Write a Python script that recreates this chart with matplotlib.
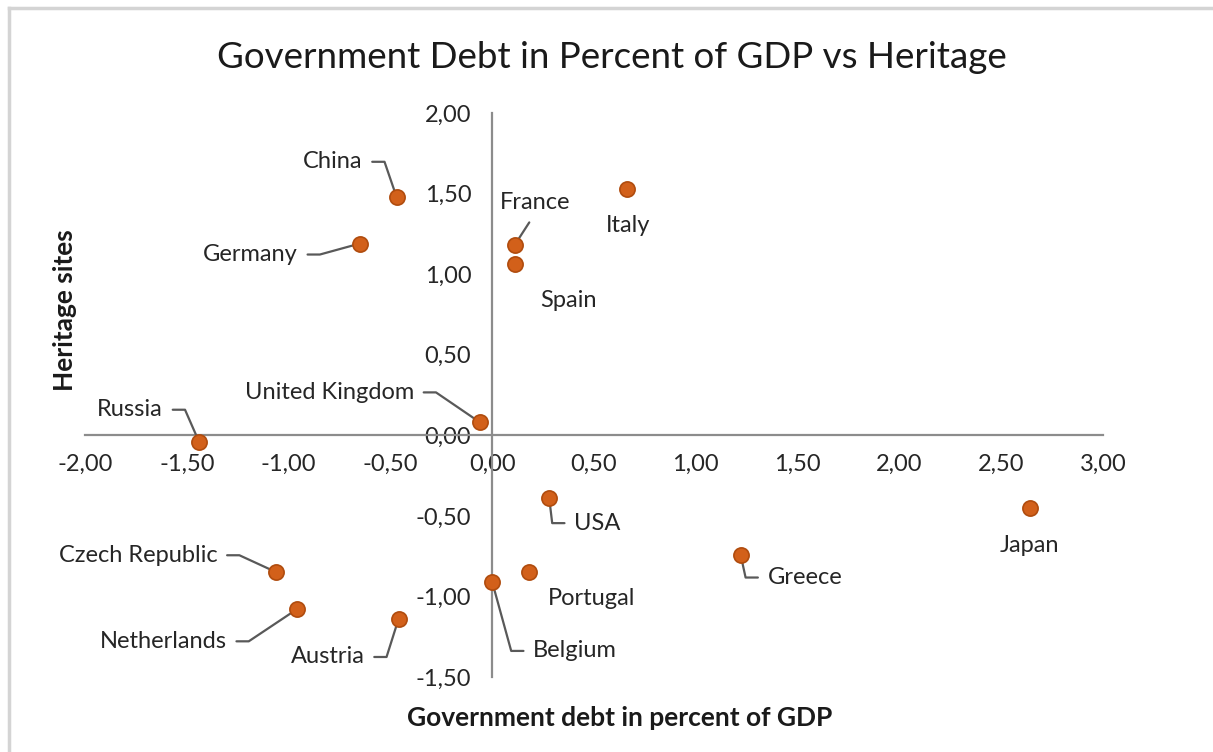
import numpy as np
import matplotlib
matplotlib.use("Agg")
import matplotlib.pyplot as plt
from matplotlib.lines import Line2D

plt.rcParams['font.family'] = ['Lato', 'DejaVu Sans']

# data
countries = ["China", "Germany", "France", "Spain", "Italy", "United Kingdom",
             "Russia", "USA", "Japan", "Greece", "Czech Republic", "Portugal",
             "Belgium", "Netherlands", "Austria"]
debt = [-0.47, -0.65, 0.11, 0.11, 0.66, -0.06,
        -1.44, 0.28, 2.64, 1.22, -1.06, 0.18,
        0.00, -0.96, -0.46]
heritage = [1.48, 1.19, 1.18, 1.06, 1.53, 0.08,
            -0.04, -0.39, -0.45, -0.74, -0.85, -0.85,
            -0.91, -1.08, -1.14]
x_ticks = [-2.0, -1.5, -1.0, -0.5, 0.0, 0.5, 1.0, 1.5, 2.0, 2.5, 3.0]
y_ticks = [-1.5, -1.0, -0.5, 0.0, 0.5, 1.0, 1.5, 2.0]

# label placement (pixel offsets from point, alignment, leader kind)
label_layout = {
    "China":          (-34, 35, "right", "hook"),
    "Germany":        (-62, -11, "right", "hook"),
    "France":         (21, 43, "center", "straight"),
    "Spain":          (54, -36, "center", None),
    "Italy":          (1, -37, "center", None),
    "United Kingdom": (-66, 30, "right", "hook"),
    "Russia":         (-36, 32, "right", "hook"),
    "USA":            (25, -25, "left", "hook"),
    "Japan":          (0, -38, "center", None),
    "Greece":         (27, -23, "left", "hook"),
    "Czech Republic": (-59, 17, "right", "hook"),
    "Portugal":       (63, -26, "center", None),
    "Belgium":        (41, -69, "left", "hook"),
    "Netherlands":    (-70, -32, "right", "hook"),
    "Austria":        (-34, -38, "right", "hook"),
}

def fmt(v):
    return "{:.2f}".format(v).replace(".", ",")

fig = plt.figure(figsize=(12.13, 7.52), dpi=100)
ax = fig.add_axes([85 / 1213, 1 - 677 / 752, 1018 / 1213, 564 / 752])

ax.set_xlim(-2, 3)
ax.set_ylim(-1.5, 2)
for s in ["top", "right"]:
    ax.spines[s].set_visible(False)
for s in ["left", "bottom"]:
    ax.spines[s].set_position(("data", 0))
    ax.spines[s].set_color("#8c8c8c")
    ax.spines[s].set_linewidth(1.6)
ax.set_xticks(x_ticks)
ax.set_yticks(y_ticks)
ax.set_xticklabels([fmt(v) for v in x_ticks])
ax.set_yticklabels([fmt(v) for v in y_ticks])
ax.tick_params(axis="x", length=0, pad=13.5, labelsize=17, labelcolor="#262626")
ax.tick_params(axis="y", length=0, pad=15, labelsize=17, labelcolor="#262626")
ax.patch.set_alpha(0)

ax.scatter(debt, heritage, s=120, color="#D2601A", edgecolor="#B04C0E",
           linewidth=1.2, zorder=5)

hook = 22
lab_size = 17
for name, x, y in zip(countries, debt, heritage):
    dx, dy, ha, kind = label_layout[name]
    if kind == "hook":
        relx = 1 if ha == "right" else 0
        kx = dx + hook if ha == "right" else dx - hook
        angB = np.degrees(np.arctan2(dy, kx))
        ax.annotate(name, (x, y), xytext=(dx, dy), textcoords="offset pixels",
                    ha=ha, va="center", fontsize=lab_size, color="#262626",
                    arrowprops=dict(arrowstyle="-", color="#595959", lw=1.6,
                                    relpos=(relx, 0.5), shrinkA=5, shrinkB=4,
                                    connectionstyle="angle,angleA=0,angleB=%.2f,rad=0" % angB))
    elif kind == "straight":
        ax.annotate(name, (x, y), xytext=(dx, dy), textcoords="offset pixels",
                    ha=ha, va="center", fontsize=lab_size, color="#262626",
                    arrowprops=dict(arrowstyle="-", color="#595959", lw=1.6,
                                    relpos=(0.5, 0), shrinkA=6, shrinkB=4))
    else:
        ax.annotate(name, (x, y), xytext=(dx, dy), textcoords="offset pixels",
                    ha=ha, va="center", fontsize=lab_size, color="#262626")

fig.text(612 / 1213, 1 - 57 / 752, "Government Debt in Percent of GDP vs Heritage",
         ha="center", va="center", fontsize=26.5, color="#1a1a1a")
fig.text(620 / 1213, 1 - 718 / 752, "Government debt in percent of GDP",
         ha="center", va="center", fontsize=19, fontweight="bold", color="#1a1a1a")
fig.text(65 / 1213, 1 - 310 / 752, "Heritage sites", rotation=90,
         ha="center", va="center", fontsize=19, fontweight="bold", color="#1a1a1a")

# light frame around the chart area
fig.add_artist(Line2D([9 / 1213, 9 / 1213], [0, 1 - 8 / 752], color="#d4d4d4", lw=2.5,
                      transform=fig.transFigure))
fig.add_artist(Line2D([9 / 1213, 1], [1 - 8 / 752, 1 - 8 / 752], color="#d4d4d4", lw=2.5,
                      transform=fig.transFigure))

fig.savefig("out.png", dpi=100)
